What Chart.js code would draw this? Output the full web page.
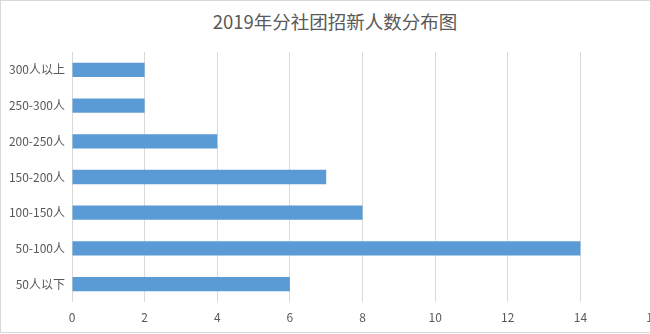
<!DOCTYPE html>
<html>
<head>
<meta charset="utf-8">
<script src="https://cdn.jsdelivr.net/npm/chart.js@4"></script>
<style>
  html, body { margin: 0; padding: 0; background: #fff; overflow: hidden; }
  #wrap {
    position: relative; width: 690px; height: 333px;
    border-top: 1px solid #d9d9d9; border-left: 1px solid #d9d9d9; border-bottom: 1px solid #d9d9d9;
    box-sizing: border-box;
  }
  #title {
    position: absolute; left: 0; width: 668px; top: 7px; text-align: center;
    font-family: "Noto Sans CJK SC", sans-serif; font-size: 18.5px; color: #595959;
  }
  canvas { position: absolute; left: 0; top: 0; }
</style>
</head>
<body>
<div id="wrap">
  <div id="title">2019年分社团招新人数分布图</div>
  <canvas id="chart" width="680" height="331"></canvas>
</div>
<script>
document.addEventListener('DOMContentLoaded', () => {
  const categories = ['300人以上', '250-300人', '200-250人', '150-200人', '100-150人', '50-100人', '50人以下'];
  const counts     = [2, 2, 4, 7, 8, 14, 6];
  const xTicks     = [0, 2, 4, 6, 8, 10, 12, 14, 16];

  const font = { family: '"Noto Sans CJK SC", sans-serif', size: 12 };

  new Chart(document.getElementById('chart').getContext('2d'), {
    type: 'bar',
    data: {
      labels: categories,
      datasets: [{
        data: counts,
        backgroundColor: '#5b9bd5',
        barPercentage: 0.4,
        categoryPercentage: 1
      }]
    },
    options: {
      indexAxis: 'y',
      responsive: false,
      animation: false,
      layout: { padding: { top: 51, right: 28, left: 0, bottom: 0 } },
      plugins: { legend: { display: false }, title: { display: false }, tooltip: { enabled: false } },
      scales: {
        x: {
          min: xTicks[0],
          max: xTicks[xTicks.length - 1],
          afterBuildTicks: s => { s.ticks = xTicks.map(v => ({ value: v })); },
          grid: { color: '#d9d9d9', drawTicks: false },
          border: { display: false },
          ticks: { font, color: '#595959', padding: 8 },
          afterFit: s => { s.height = 30; }
        },
        y: {
          grid: { display: false, drawTicks: false },
          border: { display: false },
          ticks: { font, color: '#595959', padding: 7 },
          afterFit: s => { s.width = 71; }
        }
      }
    }
  });
});
</script>
</body>
</html>
